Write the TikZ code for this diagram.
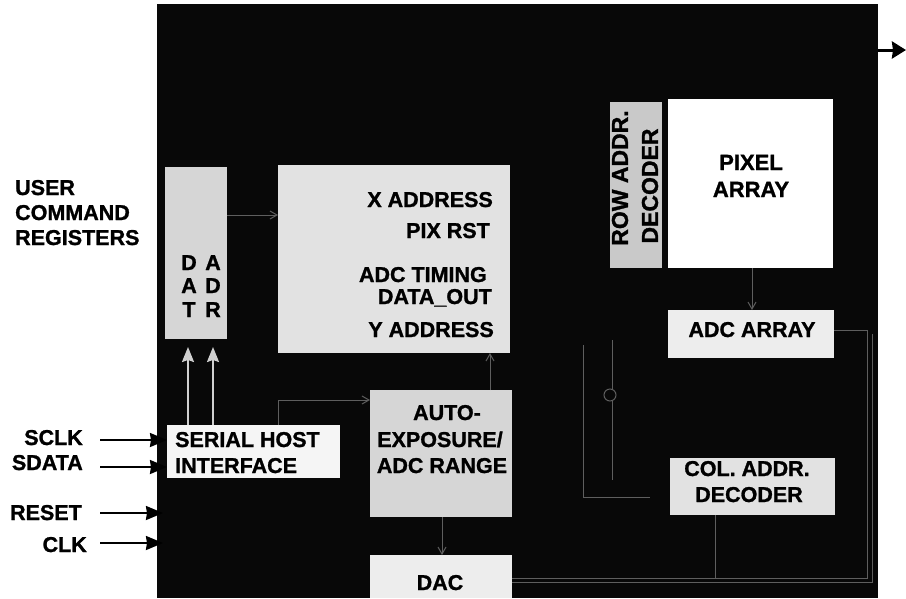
\documentclass[tikz,border=0pt]{standalone}
\usepackage{fontspec}
\setmainfont{Liberation Sans}[BoldFeatures={FakeBold=1.2}]
\usetikzlibrary{arrows.meta}
\definecolor{chipbg}{HTML}{080808}
\definecolor{boxA}{HTML}{D6D6D6}
\definecolor{boxB}{HTML}{E2E2E2}
\definecolor{boxC}{HTML}{C9C9C9}
\definecolor{boxD}{HTML}{EDEDED}
\definecolor{faintc}{HTML}{5E5E5E}
\definecolor{upc}{HTML}{D0D0D0}
\begin{document}
\begin{tikzpicture}[x=1pt,y=-1pt,
  blk/.style={draw=none, inner sep=0pt, outer sep=0pt, anchor=north west},
  txt/.style={font=\fontsize{21.5}{25}\selectfont\bfseries, inner sep=0pt, anchor=base},
  txtr/.style={txt, anchor=base east},
  txtl/.style={txt, anchor=base west},
  rtxt/.style={font=\fontsize{23}{27}\selectfont\bfseries, inner sep=0pt, rotate=90},
  inarrow/.style={draw=black, line width=2pt, -{Stealth[length=17pt,width=14pt,inset=1pt]}},
  outarrow/.style={draw=black, line width=3pt, -{Stealth[length=14pt,width=17pt,inset=1pt]}},
  uparrow/.style={draw=upc, line width=1.8pt, -{Stealth[length=15pt,width=12pt,inset=2pt]}},
  faint/.style={draw=faintc, line width=1pt},
  faintarrow/.style={faint, -{Straight Barb[length=7pt,width=8pt]}}]
\useasboundingbox (0,0) rectangle (906,598);
\fill[white] (0,0) rectangle (906,598);
% chip background
\node[blk, fill=chipbg, minimum width=721pt, minimum height=594pt] (chip) at (157,4) {};
% blocks
\node[blk, fill=boxA, minimum width=62pt, minimum height=172pt] (dat) at (165,167) {};
\node[blk, fill=boxB, minimum width=232pt, minimum height=188pt] (main) at (278,165) {};
\node[blk, fill=boxC, minimum width=52pt, minimum height=166pt] (rowdec) at (610,102) {};
\node[blk, fill=white, minimum width=165pt, minimum height=169pt] (pixel) at (668,99) {};
\node[blk, fill=boxD, minimum width=166pt, minimum height=48pt] (adcarr) at (668,310) {};
\node[blk, fill=boxB, minimum width=165pt, minimum height=57pt] (coldec) at (670,458) {};
\node[blk, fill=white!96!black, minimum width=173pt, minimum height=53pt] (serial) at (167,425) {};
\node[blk, fill=boxA, minimum width=142pt, minimum height=127pt] (auto) at (370,390) {};
\node[blk, fill=boxD, minimum width=142pt, minimum height=43pt] (dac) at (370,555) {};
% faint internal connectors
\draw[faintarrow] (dat.east |- 0,215) -- (main.west |- 0,215);
\draw[faintarrow] (auto.north -| 490,0) -- (main.south -| 490,0);
\draw[faintarrow] (pixel.south -| 752,0) -- (adcarr.north -| 752,0);
\draw[faintarrow] (auto.south -| 442,0) -- (dac.north -| 442,0);
\draw[faintarrow] (serial.north -| 278,0) -- (278,400) -- (auto.west |- 0,400);
\draw[faint] (adcarr.east |- 0,330) -- (867,330) -- (867,578) -- (dac.east |- 0,578);
\draw[faint] (872,334) -- (872,582) -- (dac.east |- 0,582);
\draw[faint] (coldec.south -| 715,0) -- (715,578);
\draw[faint] (583,345) -- (583,497) -- (650,497);
\draw[faint] (612,340) -- (612,389);
\draw[faint] (610,395) circle (6pt);
\draw[faint] (612,401) -- (612,480);
% texts in blocks
\node[txt] (d1) at (189,270) {D};
\node[txt] (d2) at (189,293) {A};
\node[txt] (d3) at (189,317) {T};
\node[txt] (a1) at (213,270) {A};
\node[txt] (a2) at (213,293) {D};
\node[txt] (a3) at (213,317) {R};
\node[txtr] (xaddr) at (493,207) {X ADDRESS};
\node[txtr] (pixrst) at (490,238) {PIX RST};
\node[txtr] (adctim) at (487,282) {ADC TIMING};
\node[txtr] (dataout) at (492,304) {DATA\_OUT};
\node[txtr] (yaddr) at (494,337) {Y ADDRESS};
\node[rtxt] (rowt1) at (620,178) {ROW ADDR.};
\node[rtxt] (rowt2) at (650,186) {DECODER};
\node[txt, font=\fontsize{22}{26}\selectfont\bfseries] (pixt1) at (751,170) {PIXEL};
\node[txt, font=\fontsize{22}{26}\selectfont\bfseries] (pixt2) at (751,197) {ARRAY};
\node[txt] (adct) at (752,337) {ADC ARRAY};
\node[txt] (colt1) at (747,476) {COL. ADDR.};
\node[txt] (colt2) at (749,502) {DECODER};
\node[txtl] (sert1) at (175,447) {SERIAL HOST};
\node[txtl] (sert2) at (175,473) {INTERFACE};
\node[txt] (aut1) at (447,420) {AUTO-};
\node[txt] (aut2) at (440,447) {EXPOSURE/};
\node[txt] (aut3) at (442,473) {ADC RANGE};
\node[txt] (dact) at (440,590) {DAC};
% outside labels
\node[txtl] (user1) at (15,195) {USER};
\node[txtl] (user2) at (15,220) {COMMAND};
\node[txtl] (user3) at (15,245) {REGISTERS};
\node[txtr] (sclk) at (83,445) {SCLK};
\node[txtr] (sdata) at (83,470) {SDATA};
\node[txtr] (reset) at (82,520) {RESET};
\node[txtr] (clk) at (87,552) {CLK};
% input arrows
\coordinate (sclkS) at (100,440);
\coordinate (sdataS) at (100,467);
\coordinate (resetS) at (100,513);
\coordinate (clkS) at (100,543);
\draw[inarrow] (sclkS) -- (sclkS -| serial.west);
\draw[inarrow] (sdataS) -- (sdataS -| serial.west);
\draw[inarrow] (resetS) -- ([xshift=6pt]resetS -| chip.west);
\draw[inarrow] (clkS) -- ([xshift=6pt]clkS -| chip.west);
% arrows into DAT/ADR
\draw[uparrow] (serial.north -| 188,0) -- ([yshift=-8pt]dat.south -| 188,0);
\draw[uparrow] (serial.north -| 213,0) -- ([yshift=-8pt]dat.south -| 213,0);
% output arrow
\coordinate (outE) at (906,50);
\draw[outarrow] (outE -| chip.east) -- (outE);
\end{tikzpicture}
\end{document}
